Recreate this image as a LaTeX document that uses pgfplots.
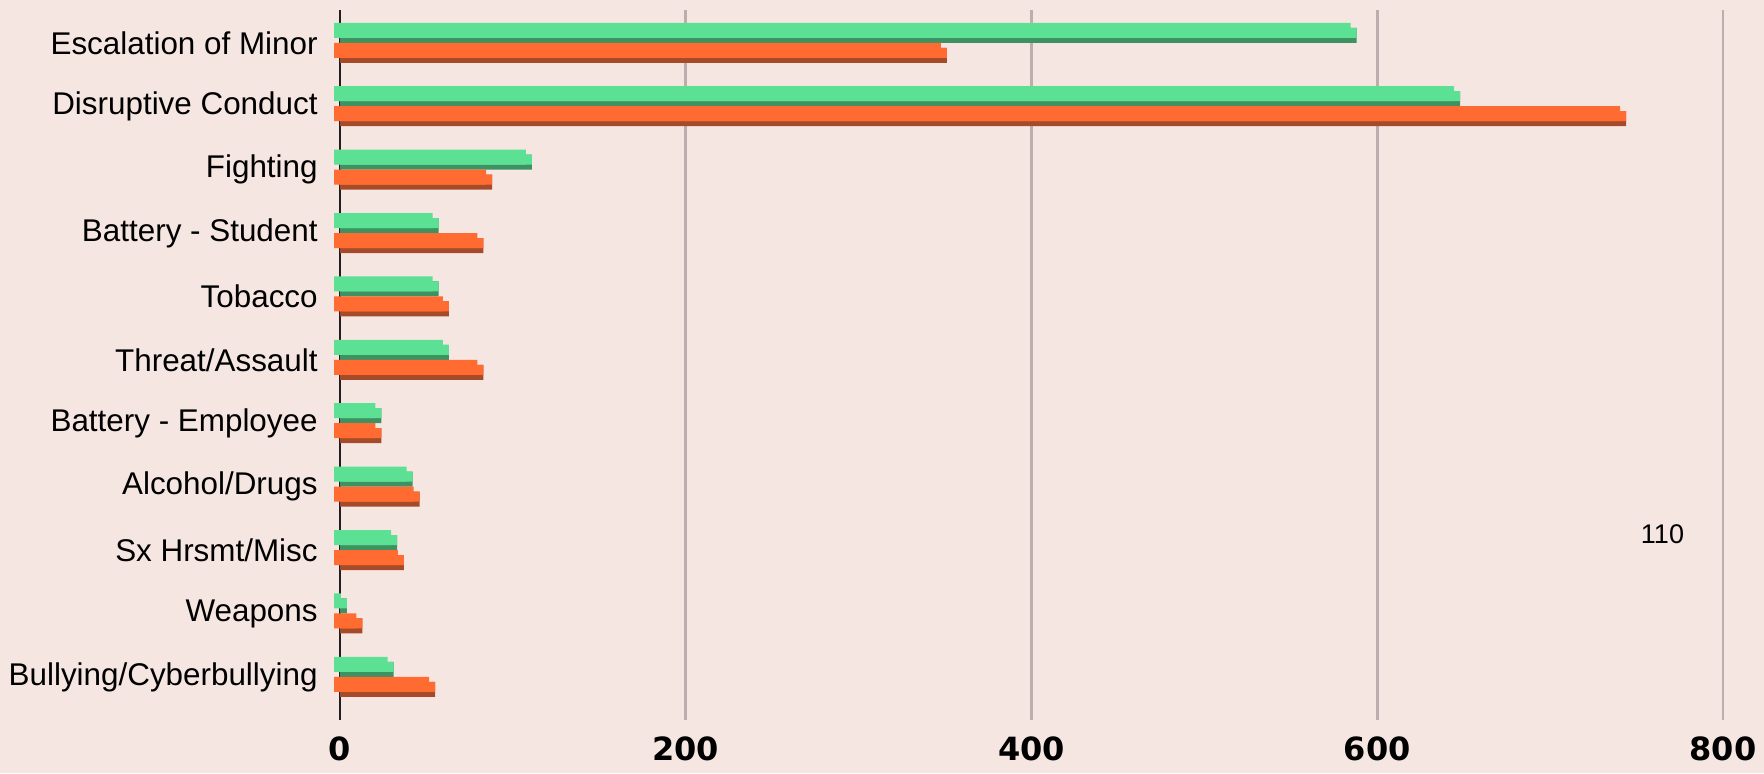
\documentclass[border=0pt]{standalone}
\usepackage{fontspec}
\setmainfont{Liberation Sans}
\newfontfamily\tickfont{DejaVu Sans}
\usepackage{pgfplots}
\pgfplotsset{compat=1.18}
\usepackage{pgfplotstable}
\definecolor{bg}{HTML}{F6E6E2}
\definecolor{gl}{HTML}{5BE094}
\definecolor{gd}{HTML}{3E9160}
\definecolor{ol}{HTML}{FF6B30}
\definecolor{od}{HTML}{A54B2A}
\definecolor{gridc}{HTML}{BDAEAE}
\pgfplotstableread{
j green orange
0 31 55
1 4 13
2 33 37
3 42 46
4 24 24
5 63 83
6 57 63
7 57 83
8 111 88
9 648 744
10 588 351
}\datatable
\begin{document}
\begin{tikzpicture}
\path[use as bounding box, fill=bg] (0,0) rectangle (882pt,386.5pt);
\begin{axis}[
  at={(170pt,26.5pt)}, anchor=south west,
  scale only axis, width=691.5pt, height=355pt,
  xmin=0, xmax=800, ymin=-0.68, ymax=10.517,
  clip=false,
  xbar,
  axis line style={draw=none},
  major tick length=0pt,
  xtick={200,400,600,800},
  extra x ticks={0},
  extra x tick style={grid style={color=black!88, line width=1.4pt}},
  xmajorgrids,
  grid style={color=gridc, line width=1.3pt},
  ytick={0,...,10},
  yticklabels={Bullying/Cyberbullying,Weapons,Sx Hrsmt/Misc,Alcohol/Drugs,Battery - Employee,Threat/Assault,Tobacco,Battery - Student,Fighting,Disruptive Conduct,Escalation of Minor},
  yticklabel style={anchor=east, inner sep=0pt, xshift=-11pt, font=\fontsize{15.7}{16}\selectfont},
  /pgf/number format/assume math mode=true,
  xticklabel style={anchor=center, inner sep=0pt, yshift=-14.5pt, font=\tickfont\bfseries\fontsize{16}{16}\selectfont},
]
\addplot[draw=none, fill=gd, bar width=7.5pt, bar shift=3.75pt] table[x=green, y=j] {\datatable};
\addplot[draw=none, fill=gl, bar width=5pt, bar shift=5pt] table[x=green, y=j] {\datatable};
\addplot[draw=none, fill=gl, bar width=7.5pt, bar shift=6.25pt, xshift=-3pt] table[x=green, y=j] {\datatable};
\addplot[draw=none, fill=od, bar width=7.5pt, bar shift=-6.25pt] table[x=orange, y=j] {\datatable};
\addplot[draw=none, fill=ol, bar width=5pt, bar shift=-5pt] table[x=orange, y=j] {\datatable};
\addplot[draw=none, fill=ol, bar width=7.5pt, bar shift=-3.75pt, xshift=-3pt] table[x=orange, y=j] {\datatable};
\node[font=\fontsize{13.5}{14}\selectfont] at (axis cs:765,2.25) {110};
\end{axis}
\end{tikzpicture}
\end{document}
